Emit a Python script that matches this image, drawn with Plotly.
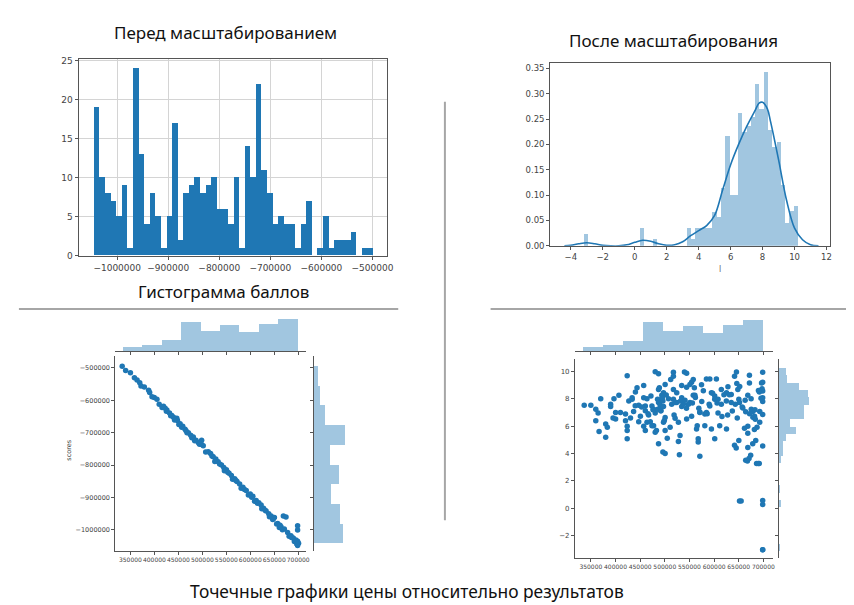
import numpy as np
import plotly.graph_objects as go

W, H = 854, 605

# ---------------- data ----------------
# Top-left: histogram of scores (50 bins)
score_bin_lo, score_bin_hi = -1046700, -499400
score_counts = [19, 10, 8, 7, 5, 9, 1, 24, 13, 4, 8, 5, 1, 5, 17, 2, 8, 9, 10, 8,
                9, 10, 6, 6, 4, 10, 1, 14, 10, 22, 11, 8, 4, 5, 4, 4, 1, 4, 7, 0,
                1, 5, 1, 2, 2, 2, 3, 0, 1, 1]
score_ticks = [-1000000, -900000, -800000, -700000, -600000, -500000]

# Top-right: distplot of scaled values (50 bins, density) + KDE
l_bin_lo, l_bin_hi = -3.15, 10.22
l_density = [0.022, 0, 0, 0, 0, 0, 0, 0, 0, 0, 0, 0, 0, 0.035, 0, 0, 0.012, 0, 0, 0,
             0, 0, 0, 0, 0.034, 0.012, 0.034, 0.034, 0.034, 0.034, 0.067, 0.056, 0.113, 0.216, 0.10, 0.10, 0.262, 0.224, 0.235, 0.253,
             0.318, 0.27, 0.342, 0.227, 0.194, 0.205, 0.12, 0.045, 0.068, 0.078]
kde_x = [-4.4, -4.0, -3.5, -3.0, -2.5, -2.0, -1.5, -1.0, -0.5, 0.0, 0.5, 1.0, 1.5, 2.0, 2.5,
         3.0, 3.5, 4.0, 4.5, 5.0, 5.5, 6.0, 6.5, 7.0, 7.5, 7.8, 8.0, 8.3, 8.5, 9.0, 9.5,
         10.0, 10.5, 11.0, 11.5]
kde_y = [0.0, 0.001, 0.004, 0.006, 0.004, 0.001, 0.0, 0.0, 0.002, 0.007, 0.011, 0.009, 0.004, 0.001, 0.002,
         0.008, 0.02, 0.03, 0.04, 0.06, 0.11, 0.16, 0.2, 0.235, 0.265, 0.282, 0.283, 0.27, 0.245, 0.17, 0.09,
         0.035, 0.012, 0.002, 0.0]
l_ticks = [-4, -2, 0, 2, 4, 6, 8, 10, 12]
dens_ticks = [0.0, 0.05, 0.10, 0.15, 0.20, 0.25, 0.30, 0.35]

# Marginal histograms (counts)
price_bin_lo, price_bin_hi = 335000, 699000
price_counts = [7, 11, 19, 50, 35, 44, 32, 46, 55]
scorem_bin_lo, scorem_bin_hi = -1043600, -494800
scorem_counts = [48, 44, 29, 42, 27, 51, 19, 10, 7]
lm_bin_lo, lm_bin_hi = -3.15, 10.22
lm_counts = [2, 0, 0, 0, 0, 0, 3, 0, 1, 0, 0, 0, 4, 6, 6, 11, 28, 18, 41, 42, 50, 48, 34, 14, 12]
price_ticks = [350000, 400000, 450000, 500000, 550000, 600000, 650000, 700000]
scores_ticks_j = [-500000, -600000, -700000, -800000, -900000, -1000000]
l_ticks_j = [-2, 0, 2, 4, 6, 8, 10]

# Bottom-left scatter: price vs scores
price_a = [332800, 350000, 358300, 363800, 369400, 379000, 388000, 390100, 399700, 405300,
           419000, 422500, 426000, 431500, 436300, 439800, 446700, 448000, 453600, 459100,
           463900, 470800, 475700, 481200, 486700, 491500, 498500, 498500, 501900, 512300,
           517100, 522600, 528100, 532900, 539900, 544700, 550200, 555700, 560600, 567500,
           572300, 577800, 584700, 591600, 599900, 605400, 612300, 617800, 622600, 627500,
           633000, 638500, 643400, 650300, 657200, 664100, 669000, 674500, 671000, 677900,
           684800, 689700, 695200, 698700, 698700, 698700, 698700, 700700, 660600, 646800,
           340000, 372000, 395000, 410000, 442000, 457000, 468000, 484000, 507000, 526000,
           546000, 563000, 581000, 596000, 609000, 624000, 640000, 655000, 667000, 681000,
           692000, 697000, 416000, 425000, 434000, 451000, 466000, 478000, 494000, 520000,
           536000, 553000, 570000, 588000, 603000, 615000, 631000, 648000, 662000, 686000]
scores_a = [-494800, -515200, -530400, -537500, -545600, -558800, -569000, -576100, -591400, -596500,
            -618800, -624900, -630000, -639200, -647300, -652400, -655400, -662600, -672700, -679900,
            -689500, -700200, -708400, -713500, -723600, -730800, -723600, -736600, -740800, -759100,
            -764100, -774300, -781400, -789600, -799700, -807900, -815000, -825200, -832300, -842500,
            -850600, -858800, -868900, -879100, -889300, -896400, -909600, -916700, -923900, -934000,
            -942200, -950300, -957400, -962500, -980800, -990900, -957400, -960400, -998100, -1008200,
            -1018400, -1025500, -1031600, -1035700, -1048900, -987900, -1001100, -1041600, -992900, -968400,
            -508000, -556000, -589000, -612000, -661000, -683000, -700000, -725000, -760000, -789000,
            -818000, -844000, -872000, -893000, -912000, -935000, -960000, -982000, -1000000, -1020000,
            -1036000, -1044000, -622000, -634000, -648000, -675000, -694000, -716000, -736000, -772000,
            -797000, -822000, -848000, -876000, -900000, -918000, -940000, -966000, -986000, -1024000]

# Bottom-right scatter: price vs scaled value l
price_b = [336500, 350000, 360000, 360000, 364700, 366700, 370000, 380100, 380100, 383400,
           390100, 390100, 396900, 400200, 400200, 406900, 423700, 420300, 420300, 423700,
           423700, 423700, 427000, 430400, 433700, 433700, 436700, 440400, 443700, 447100,
           450500, 447100, 457200, 457200, 460500, 460500, 457200, 460500, 463900, 467200,
           471900, 473900, 477300, 480600, 480600, 487300, 485300, 487300, 490700, 490700,
           494000, 494000, 496100, 497400, 497400, 487300, 500700, 500700, 497400, 500700,
           487300, 496100, 500700, 477300, 480600, 473900, 463900, 470600, 507500, 510800,
           517500, 517500, 517500, 517500, 518800, 520900, 524200, 524200, 527600, 530900,
           527600, 529600, 534300, 534300, 534300, 537600, 539900, 544300, 544300, 544300,
           551000, 551000, 554400, 554400, 557700, 557700, 561100, 564400, 565800, 567800,
           567800, 571100, 571100, 571100, 574500, 578200, 581200, 581200, 584500, 584500,
           591300, 591300, 594600, 594600, 601300, 601300, 601300, 604700, 608000, 608000,
           611400, 614700, 614700, 624800, 625200, 625200, 627500, 628100, 634800, 634800,
           641500, 641500, 644900, 645400, 646100, 648200, 650200, 650200, 651600, 651600,
           654900, 658300, 661700, 664100, 664100, 668400, 668400, 668400, 671700, 671700,
           675100, 678400, 675400, 678700, 682100, 683600, 684500, 686200, 689600, 691600,
           691900, 692600, 696300, 697300, 698600, 698600, 698600, 698600, 698600, 698600,
           698600, 698600, 698600, 698600, 698600, 695200, 692600, 687100, 681800, 678400,
           674200, 670900, 667600, 668400, 489000, 492000, 499000,
           483000, 486000, 492000, 495000, 503000, 505000, 512000, 514000, 521000, 532000,
           541000, 548000, 556000, 562000, 569000, 575000, 586000, 597000, 606000, 616000,
           631000, 637000, 643000, 647000, 652000, 657000, 663000, 672000, 683000, 690000,
           453000, 466000, 476000, 440000, 410000, 395000, 544000, 560000, 590000, 620000]
l_b = [7.53, 7.53, 7.24, 6.40, 6.96, 5.61, 8.01, 5.20, 6.16, 5.92,
       7.60, 7.44, 8.01, 7.00, 6.52, 8.25, 9.69, 6.88, 6.40, 5.99,
       5.08, 5.68, 7.84, 6.60, 7.96, 8.08, 7.08, 8.49, 8.80, 7.53,
       6.72, 6.33, 8.97, 8.08, 7.48, 7.12, 6.00, 5.68, 8.01, 6.81,
       8.20, 7.48, 7.24, 6.96, 9.98, 9.83, 7.96, 7.72, 7.53, 7.24,
       8.25, 8.01, 7.84, 8.44, 7.44, 8.68, 9.04, 6.64, 6.28, 5.68,
       4.72, 4.12, 4.00, 6.04, 5.56, 6.04, 6.28, 6.33, 8.01, 5.92,
       9.93, 9.64, 8.68, 7.96, 6.81, 6.57, 8.44, 7.72, 6.28, 5.32,
       4.88, 3.92, 8.97, 8.08, 7.44, 7.60, 9.96, 9.86, 6.52, 8.85,
       9.04, 7.72, 9.21, 6.72, 8.25, 9.40, 8.25, 5.80, 6.04, 5.08,
       4.84, 7.04, 3.80, 7.00, 9.02, 8.58, 6.88, 6.04, 9.45, 7.00,
       9.45, 7.48, 8.44, 5.80, 8.20, 5.08, 7.96, 9.45, 6.96, 7.96,
       6.04, 7.60, 8.68, 7.84, 8.44, 5.80, 6.81, 8.88, 7.72, 8.32,
       4.60, 9.64, 4.40, 9.96, 9.11, 8.68, 7.96, 4.96, 7.72, 0.53,
       0.53, 7.32, 5.84, 3.51, 7.06, 8.25, 5.48, 4.45, 9.16, 9.72,
       8.01, 7.08, 7.24, 6.65, 6.72, 6.50, 4.95, 3.28, 3.28, 3.28,
       8.49, 6.28, 9.16, 8.73, 0.28, 0.58, 4.56, 8.08, 6.86, -3.02,
       7.80, -3.02, 9.21, 9.93, 8.56, 8.04, 7.08, 5.92, 5.76, 4.72,
       3.88, 3.64, 3.45, 6.00, 8.80, 7.13, 6.41, 5.68, 7.24, 7.12,
       8.08, 8.28, 5.12, 9.40, 7.60, 7.72, 7.84,
       7.90, 7.60, 7.70, 8.10, 7.30, 7.80, 6.90, 8.40, 7.70, 6.70,
       8.30, 7.10, 7.60, 6.60, 8.90, 7.40, 7.90, 6.90, 7.20, 8.60,
       7.40, 6.90, 7.20, 7.50, 7.00, 6.60, 7.30, 8.80, 7.60, 8.30,
       7.00, 7.60, 7.80, 6.40, 6.80, 6.50, 8.60, 7.20, 8.10, 8.20]

# ---------------- figure ----------------
BLUE = "#1f77b4"
LBLUE = "rgba(31,119,180,0.42)"
AX = "#555555"
TICKC = "#444444"


def dx(a, b):
    return [a / W, b / W]


def dy(top, bottom):
    return [1 - bottom / H, 1 - top / H]


def bins(lo, hi, n):
    e = np.linspace(lo, hi, n + 1)
    return (e[:-1] + e[1:]) / 2, e[1] - e[0]


fig = go.Figure()

c, w = bins(score_bin_lo, score_bin_hi, len(score_counts))
fig.add_trace(go.Bar(x=c, y=score_counts, width=w, marker=dict(color=BLUE, line=dict(width=0)),
                     xaxis="x", yaxis="y"))

c, w = bins(l_bin_lo, l_bin_hi, len(l_density))
fig.add_trace(go.Bar(x=c, y=l_density, width=w, marker=dict(color=LBLUE, line=dict(width=0)),
                     xaxis="x2", yaxis="y2"))
fig.add_trace(go.Scatter(x=kde_x, y=kde_y, mode="lines", line=dict(color=BLUE, width=1.6, shape="spline"),
                         xaxis="x2", yaxis="y2"))

# bottom-left joint plot
fig.add_trace(go.Scatter(x=price_a, y=scores_a, mode="markers",
                         marker=dict(color=BLUE, size=5.5, line=dict(width=0)), xaxis="x3", yaxis="y3"))
c, w = bins(price_bin_lo, price_bin_hi, len(price_counts))
fig.add_trace(go.Bar(x=c, y=price_counts, width=w, marker=dict(color=LBLUE, line=dict(width=0)),
                     xaxis="x4", yaxis="y4"))
c, w = bins(scorem_bin_lo, scorem_bin_hi, len(scorem_counts))
fig.add_trace(go.Bar(y=c, x=scorem_counts, width=w, orientation="h",
                     marker=dict(color=LBLUE, line=dict(width=0)), xaxis="x5", yaxis="y5"))

# bottom-right joint plot
fig.add_trace(go.Scatter(x=price_b, y=l_b, mode="markers",
                         marker=dict(color=BLUE, size=5.5, line=dict(width=0)), xaxis="x6", yaxis="y6"))
c, w = bins(price_bin_lo, price_bin_hi, len(price_counts))
fig.add_trace(go.Bar(x=c, y=price_counts, width=w, marker=dict(color=LBLUE, line=dict(width=0)),
                     xaxis="x7", yaxis="y7"))
c, w = bins(lm_bin_lo, lm_bin_hi, len(lm_counts))
fig.add_trace(go.Bar(y=c, x=lm_counts, width=w, orientation="h",
                     marker=dict(color=LBLUE, line=dict(width=0)), xaxis="x8", yaxis="y8"))

tickfont_big = dict(family="DejaVu Sans", size=9, color=TICKC)
tickfont_mid = dict(family="DejaVu Sans", size=8.5, color=TICKC)
tickfont_small = dict(family="DejaVu Sans", size=6, color=TICKC)

base = dict(showline=True, linecolor=AX, linewidth=1, ticks="outside", ticklen=3, tickcolor=AX,
            zeroline=False, showgrid=False)

fig.update_layout(
    width=W, height=H, margin=dict(l=0, r=0, t=0, b=0),
    paper_bgcolor="white", plot_bgcolor="white", showlegend=False, bargap=0,
    xaxis=dict(base, domain=dx(71, 382), anchor="y", range=[-1075850, -470800], tickvals=score_ticks,
               tickformat="d", tickfont=tickfont_big, mirror=True, showgrid=True, gridcolor="#d4d4d4",
               tickangle=0),
    yaxis=dict(base, domain=dy(49, 248), anchor="x", range=[0, 25.2], dtick=5, tickfont=tickfont_big,
               mirror=True, showgrid=True, gridcolor="#d4d4d4"),
    xaxis2=dict(base, domain=dx(546, 828), anchor="y2", range=[-5.29, 12.23], tickvals=l_ticks,
                tickfont=tickfont_mid, mirror=True, tickangle=0),
    yaxis2=dict(base, domain=dy(53, 238), anchor="x2", range=[0, 0.36], tickvals=dens_ticks,
                tickformat=".2f", tickfont=tickfont_mid, mirror=True),
    xaxis3=dict(base, domain=dx(108, 300), anchor="y3", range=[318300, 716000], tickvals=price_ticks,
                tickformat="d", tickfont=tickfont_small, tickangle=0),
    yaxis3=dict(base, domain=dy(350, 547), anchor="x3", range=[-1065000, -464300], tickvals=scores_ticks_j,
                tickformat="d", tickfont=dict(family="DejaVu Sans", size=6.5, color=TICKC)),
    xaxis4=dict(base, domain=dx(108, 300), anchor="y4", range=[318300, 716000], tickvals=price_ticks,
                showticklabels=False),
    yaxis4=dict(domain=dy(311, 345), anchor="x4", range=[0, 56], visible=False),
    xaxis5=dict(domain=dx(308, 340), anchor="y5", range=[0, 53], visible=False),
    yaxis5=dict(base, domain=dy(350, 547), anchor="x5", range=[-1065000, -464300], tickvals=scores_ticks_j,
                showticklabels=False),
    xaxis6=dict(base, domain=dx(571, 770), anchor="y6", range=[317800, 718700], tickvals=price_ticks,
                tickformat="d", tickfont=tickfont_small, tickangle=0),
    yaxis6=dict(base, domain=dy(353, 554), anchor="x6", range=[-3.6, 10.88], tickvals=l_ticks_j,
                tickfont=dict(family="DejaVu Sans", size=7, color=TICKC)),
    xaxis7=dict(base, domain=dx(571, 770), anchor="y7", range=[317800, 718700], tickvals=price_ticks,
                showticklabels=False),
    yaxis7=dict(domain=dy(312, 345), anchor="x7", range=[0, 56], visible=False),
    xaxis8=dict(domain=dx(776, 808), anchor="y8", range=[0, 53], visible=False),
    yaxis8=dict(base, domain=dy(353, 554), anchor="x8", range=[-3.6, 10.88], tickvals=l_ticks_j,
                showticklabels=False),
)

TF = "Noto Sans"


def ann(text, x, y, size, color="#111111", angle=0, family=TF):
    fig.add_annotation(text=text, x=x / W, y=1 - y / H, xref="paper", yref="paper", showarrow=False,
                       font=dict(family=family, size=size, color=color), textangle=angle,
                       xanchor="center", yanchor="middle")


ann("Перед масштабированием", 219, 22, 17)
ann("После масштабирования", 670, 30, 17)
ann("Гистограмма баллов", 217, 284, 17)
ann("Точечные графики цены относительно результатов", 402, 588, 17.4)
ann("l", 717, 262, 8, color="#666666", family="DejaVu Sans")
ann("scores", 62, 445, 6.5, color=TICKC, angle=-90, family="DejaVu Sans")

GRAY = "#a6a6a6"
for x0, y0, x1, y1 in [(11, 302, 393, 302), (486, 302, 854, 302), (440, 92, 440, 516)]:
    fig.add_shape(type="line", xref="paper", yref="paper", x0=x0 / W, y0=1 - y0 / H, x1=x1 / W, y1=1 - y1 / H,
                  line=dict(color=GRAY, width=2))

fig.write_html("out.html")
